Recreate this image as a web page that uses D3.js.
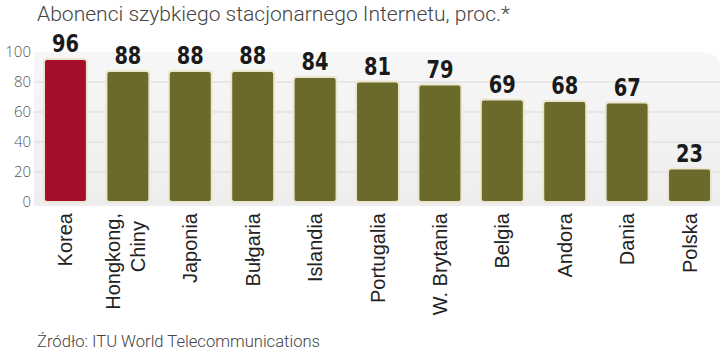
<!DOCTYPE html>
<html lang="pl">
<head>
<meta charset="utf-8">
<title>Abonenci szybkiego Internetu</title>
<script src="https://cdn.jsdelivr.net/npm/d3@7"></script>
<style>
  body { margin: 0; background: #fff; }
</style>
</head>
<body>
<script>
var w = 720;
var h = 351;

var categories = ["Korea", "Hongkong, Chiny", "Japonia", "Bułgaria", "Islandia", "Portugalia",
                  "W. Brytania", "Belgia", "Andora", "Dania", "Polska"];
var values = [96, 88, 88, 88, 84, 81, 79, 69, 68, 67, 23];
var yTicks = [0, 20, 40, 60, 80, 100];
var highlight = "Korea";

var svg = d3.select("body").append("svg")
    .attr("width", w)
    .attr("height", h);

// scales
var x = d3.scaleBand()
    .domain(categories)
    .range([43, 712])
    .paddingInner(0.28)
    .paddingOuter(0);

var y = d3.scaleLinear()
    .domain([0, 100])
    .range([202, 52]);

// gray panel with rounded top-right corner
var defs = svg.append("defs");
var grad = defs.append("linearGradient").attr("id", "panel").attr("x1", 0).attr("y1", 0).attr("x2", 0).attr("y2", 1);
grad.append("stop").attr("offset", "0%").attr("stop-color", "#f7f7f7");
grad.append("stop").attr("offset", "100%").attr("stop-color", "#eeeeee");

var px0 = 34, px1 = 720, py0 = y(100), py1 = 206, r = 18;
svg.append("path")
    .attr("d", "M" + px0 + "," + py0 + "H" + (px1 - r) + "Q" + px1 + "," + py0 + " " + px1 + "," + (py0 + r) +
               "V" + py1 + "H" + px0 + "Z")
    .attr("fill", "url(#panel)");

// gridlines
svg.append("g")
    .selectAll("line")
    .data(yTicks.filter(function(d){ return d > 0 && d < 100; }))
    .enter()
    .append("line")
    .attr("x1", px0)
    .attr("x2", px1)
    .attr("y1", function(d){ return y(d); })
    .attr("y2", function(d){ return y(d); })
    .attr("stroke", "#d9d9d9")
    .attr("stroke-width", 1.2);

// y axis labels
var yAxis = d3.axisLeft(y).tickValues(yTicks).tickSize(0).tickPadding(0);
var gy = svg.append("g")
    .attr("transform", "translate(31,0)")
    .call(yAxis);
gy.select(".domain").remove();
gy.selectAll("text")
    .attr("font-family", "'Open Sans', Lato, sans-serif")
    .attr("font-weight", 300)
    .attr("font-size", "15px")
    .attr("fill", "#555");

// bars
var data = categories.map(function(c, i){ return {cat: c, val: values[i]}; });

svg.append("g")
    .selectAll("rect")
    .data(data)
    .enter()
    .append("rect")
    .attr("x", function(d){ return x(d.cat) + 1; })
    .attr("y", function(d){ return y(d.val) + 1; })
    .attr("width", x.bandwidth() - 2)
    .attr("height", function(d){ return y(0) - y(d.val) - 1; })
    .attr("rx", 3)
    .attr("fill", function(d){ return d.cat === highlight ? "#a50f2b" : "#6b6a2b"; })
    .attr("stroke", "#ebe7cf")
    .attr("stroke-width", 2);

// value labels (tall, condensed)
svg.append("g")
    .selectAll("text")
    .data(data)
    .enter()
    .append("text")
    .text(function(d){ return d.val; })
    .attr("transform", function(d){
        return "translate(" + (x(d.cat) + x.bandwidth() / 2) + "," + (y(d.val) - 6) + ") scale(0.88,1)";
    })
    .attr("text-anchor", "middle")
    .attr("font-family", "'DejaVu Sans Condensed', 'DejaVu Sans', sans-serif")
    .attr("font-weight", "bold")
    .attr("font-size", "24.5px")
    .attr("fill", "#1a1a1a");

// category labels, rotated
var labels = svg.append("g")
    .selectAll("text")
    .data(data)
    .enter()
    .append("text")
    .attr("transform", function(d){
        return "translate(" + (x(d.cat) + x.bandwidth() / 2) + ",213) rotate(-90)";
    })
    .attr("text-anchor", "end")
    .attr("font-family", "'Liberation Sans', Arial, sans-serif")
    .attr("font-size", "20px")
    .attr("fill", "#222");

labels.each(function(d){
    var lines = d.cat.split(", ");
    var t = d3.select(this);
    if (lines.length === 1) {
        t.append("tspan").attr("x", 0).attr("y", 7).text(lines[0]);
    } else {
        t.append("tspan").attr("x", 0).attr("y", -7.5).text(lines[0] + ",");
        t.append("tspan").attr("x", -8).attr("y", 17.5).text(lines[1]);
    }
});

// title
svg.append("text")
    .attr("x", 37)
    .attr("y", 21)
    .text("Abonenci szybkiego stacjonarnego Internetu, proc.*")
    .attr("font-family", "Roboto, 'Open Sans', sans-serif")
    .attr("font-weight", 300)
    .attr("font-size", "21px")
    .attr("fill", "#444")
    .attr("textLength", 473)
    .attr("lengthAdjust", "spacingAndGlyphs");

// source
svg.append("text")
    .attr("x", 37)
    .attr("y", 347)
    .text("Źródło: ITU World Telecommunications")
    .attr("font-family", "Roboto, 'Open Sans', sans-serif")
    .attr("font-weight", 300)
    .attr("font-size", "17px")
    .attr("fill", "#444")
    .attr("textLength", 283)
    .attr("lengthAdjust", "spacingAndGlyphs");
</script>
</body>
</html>
